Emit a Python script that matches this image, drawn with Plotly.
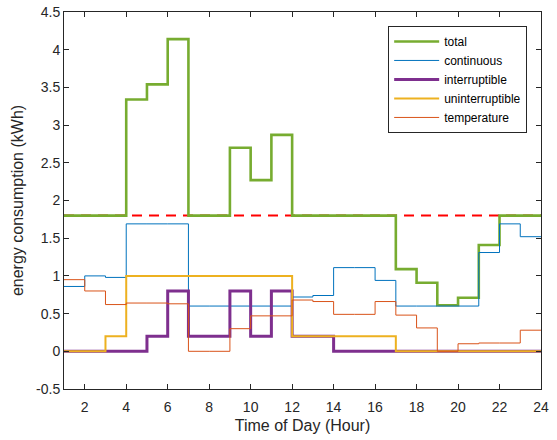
import plotly.graph_objects as go

hours = list(range(1, 25))
total = [1.8, 1.8, 1.8, 3.34, 3.54, 4.14, 1.8, 1.8, 2.7, 2.27, 2.87, 1.8,
         1.8, 1.8, 1.8, 1.8, 1.09, 0.91, 0.61, 0.71, 1.41, 1.8, 1.8, 1.8]
continuous = [0.86, 1.0, 0.98, 1.69, 1.69, 1.69, 0.6, 0.6, 0.6, 0.6, 0.6, 0.72,
              0.74, 1.11, 1.11, 0.94, 0.6, 0.6, 0.6, 0.6, 1.31, 1.69, 1.52, 1.52]
interruptible = [0, 0, 0, 0, 0.2, 0.8, 0.2, 0.2, 0.8, 0.2, 0.8, 0.2,
                 0.2, 0, 0, 0, 0, 0, 0, 0, 0, 0, 0, 0]
uninterruptible = [0, 0, 0.2, 1.0, 1.0, 1.0, 1.0, 1.0, 1.0, 1.0, 1.0, 0.2,
                   0.2, 0.2, 0.2, 0.2, 0, 0, 0, 0, 0, 0, 0, 0]
temperature = [0.95, 0.8, 0.62, 0.64, 0.64, 0.63, 0, 0, 0.3, 0.47, 0.47, 0.68,
               0.66, 0.49, 0.49, 0.66, 0.48, 0.31, 0, 0.1, 0.11, 0.11, 0.28, 0.28]
limit = [1.8] * 24

x_ticks = list(range(2, 25, 2))
y_ticks = [-0.5, 0, 0.5, 1, 1.5, 2, 2.5, 3, 3.5, 4, 4.5]
y_tick_text = ["-0.5", "0", "0.5", "1", "1.5", "2", "2.5", "3", "3.5", "4", "4.5"]

fig = go.Figure()
fig.add_trace(go.Scatter(x=hours, y=limit, mode="lines", line_shape="hv",
                         line=dict(color="#FF0000", width=2, dash="10px,7px"),
                         showlegend=False, hoverinfo="skip"))
series = [
    ("total", total, "#77AC30", 2.6),
    ("continuous", continuous, "#0072BD", 1),
    ("interruptible", interruptible, "#7E2F8E", 3),
    ("uninterruptible", uninterruptible, "#EDB120", 2),
    ("temperature", temperature, "#D95319", 1),
]
for name, vals, color, w in series:
    fig.add_trace(go.Scatter(x=hours, y=vals, mode="lines", line_shape="hv",
                             name=name, line=dict(color=color, width=w)))

axis_common = dict(showline=True, linecolor="#262626", linewidth=1, mirror="ticks",
                   ticks="inside", ticklen=5, tickcolor="#262626", showgrid=False,
                   zeroline=False, automargin=False,
                   tickfont=dict(size=14, color="#262626"))
fig.update_xaxes(range=[1, 24], tickvals=x_ticks, ticklabelstandoff=5,
                 title=dict(text="Time of Day (Hour)", font=dict(size=16, color="#262626"), standoff=6),
                 **axis_common)
fig.update_yaxes(range=[-0.5, 4.5], tickvals=y_ticks, ticktext=y_tick_text,
                 title=dict(text="energy consumption (kWh)", font=dict(size=16, color="#262626"), standoff=8),
                 **axis_common)
fig.update_layout(
    width=557, height=440,
    margin=dict(l=64, r=16, t=12, b=51),
    paper_bgcolor="white", plot_bgcolor="white",
    font=dict(family="Arial, Liberation Sans, sans-serif", color="#262626"),
    legend=dict(x=0.971, y=0.963, xanchor="right", yanchor="top",
                bordercolor="#262626", borderwidth=1, bgcolor="white",
                font=dict(size=12, color="#000000"), tracegroupgap=0,
                itemwidth=45),
)
fig.write_html("out.html")
